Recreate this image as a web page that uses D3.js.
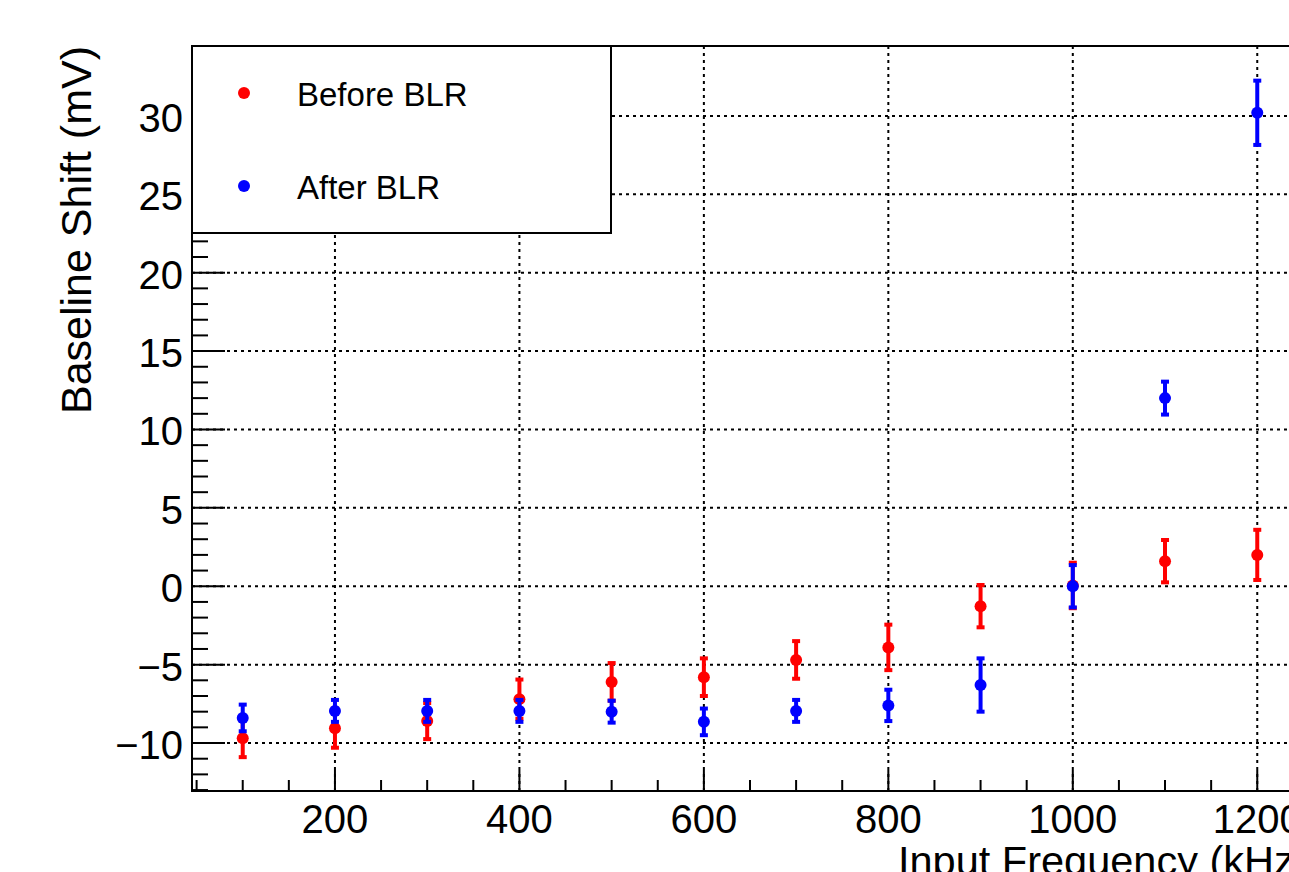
<!DOCTYPE html>
<html>
<head>
<meta charset="utf-8">
<script src="https://cdn.jsdelivr.net/npm/d3@7"></script>
<style>
  body { margin: 0; background: #fff; }
  svg { display: block; font-family: "Liberation Sans", Arial, Helvetica, sans-serif; }
  .grid line { stroke: #000; stroke-width: 2; stroke-dasharray: 3,4; }
</style>
</head>
<body>
<div id="chart"></div>
<script>
// input frequency (kHz)
const freqs = [100, 200, 300, 400, 500, 600, 700, 800, 900, 1000, 1100, 1200];
// baseline shift before BLR (mV) and its errors
const beforeVals = [-9.7, -9.05, -8.6, -7.2, -6.1, -5.8, -4.7, -3.9, -1.27, 0.05, 1.6, 2.0];
const beforeErr = [1.2, 1.25, 1.15, 1.25, 1.2, 1.2, 1.2, 1.45, 1.35, 1.45, 1.35, 1.6];
// baseline shift after BLR (mV) and its errors
const afterVals = [-8.4, -7.95, -7.95, -7.95, -8.0, -8.65, -7.95, -7.6, -6.3, 0.0, 12.0, 30.2];
const afterErr = [0.85, 0.7, 0.7, 0.7, 0.7, 0.85, 0.7, 1.0, 1.7, 1.35, 1.05, 2.05];

const xTicks = [200, 400, 600, 800, 1000, 1200];
const yTicks = [-10, -5, 0, 5, 10, 15, 20, 25, 30];
const legendNames = ["Before BLR", "After BLR"];
const colors = ["#ff0000", "#0000ff"];

const width = 1289, height = 872;
const frame = {left: 192, top: 46, bottom: 791};

const svg = d3.select("#chart")
    .append("svg")
    .attr("width", width)
    .attr("height", height);

const x = d3.scaleLinear()
    .domain([45, 1255])
    .range([frame.left, frame.left + 1210 * 0.9223]);

const y = d3.scaleLinear()
    .domain([-13.06, 34.46])
    .range([frame.bottom, frame.top]);

// grid
const grid = svg.append("g").attr("class", "grid");
grid.selectAll(".gx")
    .data(xTicks)
    .enter()
    .append("line")
    .attr("x1", (d) => x(d))
    .attr("x2", (d) => x(d))
    .attr("y1", frame.top)
    .attr("y2", frame.bottom);
grid.selectAll(".gy")
    .data(yTicks)
    .enter()
    .append("line")
    .attr("x1", frame.left)
    .attr("x2", width)
    .attr("y1", (d) => y(d))
    .attr("y2", (d) => y(d));

// y ticks: major every 5, minor every 1
const yMinor = d3.range(-13, 35, 1);
svg.append("g").selectAll("line")
    .data(yMinor)
    .enter()
    .append("line")
    .attr("x1", frame.left)
    .attr("x2", (d) => frame.left + (d % 5 === 0 ? 33 : 16))
    .attr("y1", (d) => y(d))
    .attr("y2", (d) => y(d))
    .attr("stroke", "#000")
    .attr("stroke-width", 2);

// x ticks: major every 200, minor every 50
const xMinor = d3.range(50, 1255, 50);
svg.append("g").selectAll("line")
    .data(xMinor)
    .enter()
    .append("line")
    .attr("x1", (d) => x(d))
    .attr("x2", (d) => x(d))
    .attr("y1", frame.bottom)
    .attr("y2", (d) => frame.bottom - (d % 200 === 0 ? 21 : 11))
    .attr("stroke", "#000")
    .attr("stroke-width", 2);

// tick labels
svg.append("g").selectAll("text")
    .data(yTicks)
    .enter()
    .append("text")
    .attr("x", 183)
    .attr("y", (d) => y(d))
    .attr("dy", "0.4em")
    .attr("text-anchor", "end")
    .attr("font-size", 40)
    .text((d) => d < 0 ? "\u2212" + Math.abs(d) : d);

svg.append("g").selectAll("text")
    .data(xTicks)
    .enter()
    .append("text")
    .attr("x", (d) => x(d))
    .attr("y", 833)
    .attr("text-anchor", "middle")
    .attr("font-size", 40)
    .text((d) => d);

// axis titles
svg.append("text")
    .attr("transform", "translate(91,46) rotate(-90)")
    .attr("text-anchor", "end")
    .attr("font-size", 43)
    .text("Baseline Shift (mV)");

svg.append("text")
    .attr("x", 898)
    .attr("y", 875)
    .attr("font-size", 41.5)
    .text("Input Frequency (kHz)");

// data points with error bars
const series = [
  {vals: beforeVals, errs: beforeErr, color: colors[0]},
  {vals: afterVals, errs: afterErr, color: colors[1]}
];

series.forEach(function(s) {
  const pts = freqs.map((f, i) => ({x: f, v: s.vals[i], e: s.errs[i]}));
  const g = svg.append("g");
  g.selectAll(".bar")
      .data(pts)
      .enter()
      .append("line")
      .attr("x1", (d) => x(d.x))
      .attr("x2", (d) => x(d.x))
      .attr("y1", (d) => y(d.v + d.e))
      .attr("y2", (d) => y(d.v - d.e))
      .attr("stroke", s.color)
      .attr("stroke-width", 4);
  [1, -1].forEach(function(sign) {
    g.selectAll(".cap" + sign)
        .data(pts)
        .enter()
        .append("rect")
        .attr("x", (d) => x(d.x) - 4)
        .attr("y", (d) => y(d.v + sign * d.e) - 2)
        .attr("width", 8)
        .attr("height", 4)
        .attr("fill", s.color);
  });
  g.selectAll("circle")
      .data(pts)
      .enter()
      .append("circle")
      .attr("cx", (d) => x(d.x))
      .attr("cy", (d) => y(d.v))
      .attr("r", 6)
      .attr("fill", s.color);
});

// frame (left, top, bottom; right edge lies outside the view)
svg.append("path")
    .attr("d", `M${width},${frame.top}H${frame.left}V${frame.bottom}H${width}`)
    .attr("fill", "none")
    .attr("stroke", "#000")
    .attr("stroke-width", 2);

// legend
const legend = svg.append("g");
legend.append("rect")
    .attr("x", frame.left)
    .attr("y", frame.top)
    .attr("width", 419)
    .attr("height", 187)
    .attr("fill", "#fff")
    .attr("stroke", "#000")
    .attr("stroke-width", 2);

const legendRows = legend.selectAll(".row")
    .data(legendNames)
    .enter()
    .append("g")
    .attr("transform", (d, i) => "translate(0," + (93 + i * 93) + ")");
legendRows.append("circle")
    .attr("cx", 244)
    .attr("r", 6)
    .attr("fill", (d, i) => colors[i]);
legendRows.append("text")
    .attr("x", 297)
    .attr("y", 13)
    .attr("font-size", 33)
    .text((d) => d);
</script>
</body>
</html>
